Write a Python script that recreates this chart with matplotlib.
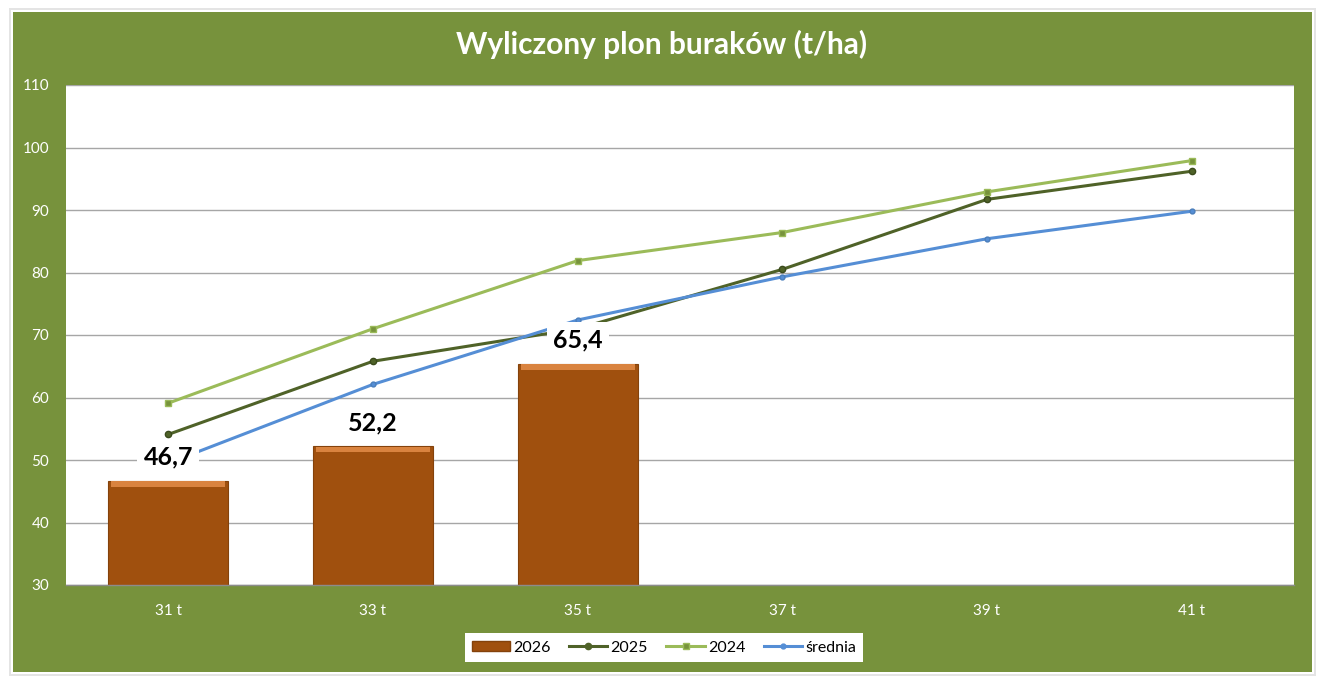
import matplotlib
matplotlib.use("Agg")
import matplotlib.pyplot as plt
from matplotlib.patches import Rectangle, Patch
from matplotlib.lines import Line2D

categories = ["31 t", "33 t", "35 t", "37 t", "39 t", "41 t"]
values_2026 = [46.7, 52.2, 65.4]
values_2025 = [54.1, 65.8, 71.0, 80.5, 91.7, 96.2]
values_2024 = [59.1, 71.0, 81.9, 86.4, 92.9, 97.9]
values_srednia = [49.5, 62.1, 72.4, 79.3, 85.4, 89.8]
yticks = [30, 40, 50, 60, 70, 80, 90, 100, 110]
title = "Wyliczony plon buraków (t/ha)"
series_names = ["2026", "2025", "2024", "średnia"]

FONT = ["Lato", "DejaVu Sans"]
plt.rcParams["font.family"] = FONT

W, H = 1331, 691
fig = plt.figure(figsize=(W / 100, H / 100), dpi=100)
fig.patch.set_facecolor("white")

GREEN = "#77923C"
# panel shadow + panel
for (x0, y0, w, h, c) in [(9, 676, 1307, 668, "#E4E4E4"),
                          (11, 674, 1303, 664, "white"),
                          (13, 672, 1299, 660, GREEN)]:
    fig.patches.append(Rectangle((x0 / W, (H - y0) / H), w / W, h / H,
                                 transform=fig.transFigure, facecolor=c,
                                 edgecolor="none", zorder=-10))

ax = fig.add_axes([66 / W, (H - 585) / H, 1228 / W, 500 / H])
ax.set_zorder(1)
ax.set_facecolor("white")

x = list(range(len(categories)))
xb = x[:len(values_2026)]

# bars (with a lighter bevel strip on top)
bw = 0.587
ax.bar(xb, values_2026, width=bw, bottom=0, color="#A0500E",
       edgecolor="#84420B", linewidth=0.8, zorder=2)
ax.bar(xb, [0.9] * len(xb), width=bw * 0.95,
       bottom=[v - 0.95 for v in values_2026], color="#D9833F",
       edgecolor="none", zorder=2.1)

LW = 2.2
ax.plot(x, values_2025, color="#4F6228", lw=LW, marker="o", ms=4.5,
        mfc="#4F6228", mec="#3A4A1C", zorder=3, solid_capstyle="round")
ax.plot(x, values_2024, color="#9BBB59", lw=LW, marker="s", ms=4.5,
        mfc="#77933C", mec="#9BBB59", zorder=3, solid_capstyle="round")
ax.plot(x, values_srednia, color="#558ED5", lw=LW, marker="o", ms=3.5,
        mfc="#558ED5", mec="#4A7EBB", zorder=3, solid_capstyle="round")

for xi, v in zip(xb, values_2026):
    ax.annotate(f"{v:.1f}".replace(".", ","), (xi, v), xytext=(0, 17),
                textcoords="offset points", ha="center", va="center",
                fontsize=18, fontweight="bold", color="black", zorder=6,
                bbox=dict(boxstyle="square,pad=0.25", fc="white", ec="none"))

ax.set_xlim(-0.5, len(categories) - 0.5)
ax.set_ylim(yticks[0], yticks[-1])
ax.set_yticks(yticks)
ax.set_xticks(x)
ax.set_xticklabels(categories)
ax.yaxis.grid(True, color="#A6A6A6", lw=1)
ax.set_axisbelow(True)
for s in ["top", "left", "right"]:
    ax.spines[s].set_visible(False)
ax.spines["bottom"].set_color("#8C8C8C")
ax.spines["bottom"].set_linewidth(1)
ax.spines["bottom"].set_zorder(4)
ax.tick_params(axis="both", length=0, labelcolor="white", labelsize=11)
ax.tick_params(axis="y", pad=12)
ax.tick_params(axis="x", pad=14)

fig.text(662 / W, 1 - 44 / H, title, ha="center", va="center",
         fontsize=21.5, fontweight="bold", color="white")

handles = [
    Patch(facecolor="#A0500E", edgecolor="#84420B"),
    Line2D([], [], color="#4F6228", lw=LW, marker="o", ms=4.5, mfc="#4F6228"),
    Line2D([], [], color="#9BBB59", lw=LW, marker="s", ms=4.5, mfc="#77933C"),
    Line2D([], [], color="#558ED5", lw=LW, marker="o", ms=3.5, mfc="#558ED5"),
]
leg = fig.legend(handles, series_names, loc="center",
                 bbox_to_anchor=(664 / W, 1 - 647.5 / H), ncol=4,
                 frameon=True, fancybox=False, fontsize=11.5,
                 handlelength=2.4, handleheight=0.65, handletextpad=0.2,
                 columnspacing=1.15, borderpad=0.45, borderaxespad=0,
                 labelcolor="black")
leg.get_frame().set_facecolor("white")
leg.get_frame().set_edgecolor("none")
leg.get_frame().set_alpha(1)

fig.savefig("out.png", dpi=100, facecolor="white")
